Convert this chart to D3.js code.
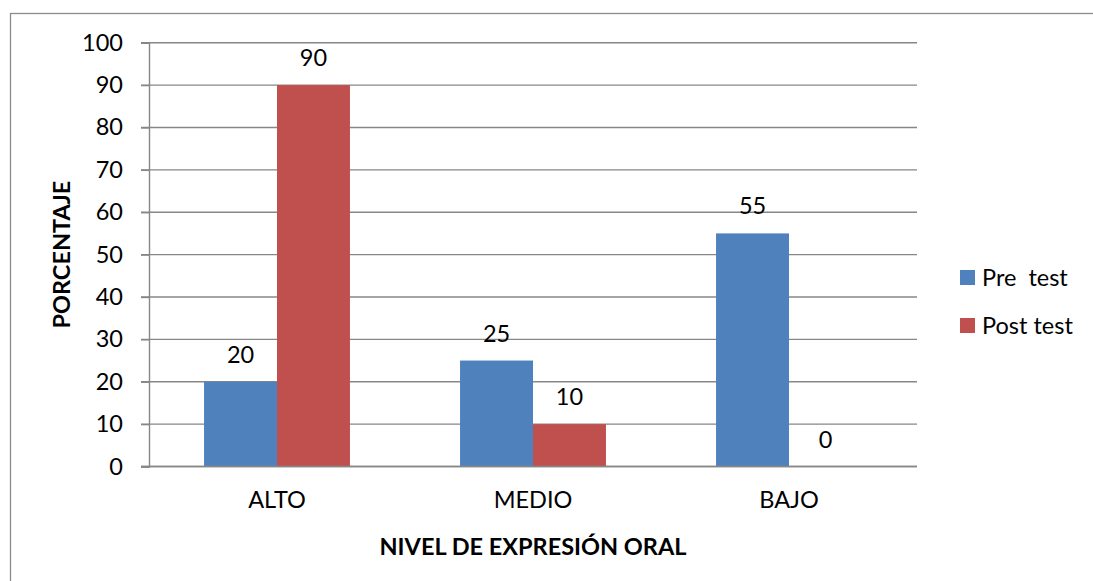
<!DOCTYPE html>
<html>
<head>
<meta charset="utf-8">
<script src="https://cdn.jsdelivr.net/npm/d3@7"></script>
<style>
  body { margin: 0; background: #fff; }
  text { font-family: Lato, "Liberation Sans", sans-serif; fill: #000; }
</style>
</head>
<body>
<div id="chart"></div>
<script>
// chart data
var categories = ["ALTO", "MEDIO", "BAJO"];
var seriesNames = ["Pre  test", "Post test"];
var preTest = [20, 25, 55];
var postTest = [90, 10, 0];
var yTicks = [0, 10, 20, 30, 40, 50, 60, 70, 80, 90, 100];
var colors = ["#4F81BD", "#C0504D"];

var width = 1093, height = 581;
var plotLeft = 149, plotRight = 917, plotTop = 42.7, plotBottom = 466.5;
var fontSize = "23.5px";

var svg = d3.select("#chart").append("svg")
	.attr("width", width)
	.attr("height", height);

// outer chart border (runs off the right and bottom edge)
svg.append("rect")
	.attr("x", 10.5).attr("y", 13.5)
	.attr("width", width).attr("height", height)
	.attr("fill", "none")
	.attr("stroke", "#8c8c8c")
	.attr("stroke-width", 1.3);

var y = d3.scaleLinear().domain([0, 100]).range([plotBottom, plotTop]);
var x = d3.scaleBand().domain(categories).range([plotLeft, plotRight])
	.paddingInner(0.43).paddingOuter(0.215);
var xs = d3.scaleBand().domain(seriesNames).range([0, x.bandwidth()]);

// gridlines
svg.append("g").selectAll("line")
	.data(yTicks)
	.enter().append("line")
	.attr("x1", plotLeft - 8)
	.attr("x2", plotRight)
	.attr("y1", function (d) { return y(d); })
	.attr("y2", function (d) { return y(d); })
	.attr("stroke", "#878787")
	.attr("stroke-width", 1.4);

// y axis
var yAxis = svg.append("g")
	.attr("transform", "translate(" + plotLeft + ",0)")
	.call(d3.axisLeft(y).tickValues(yTicks).tickSize(8).tickPadding(18));
yAxis.select(".domain").attr("stroke", "#878787").attr("stroke-width", 1.4);
yAxis.selectAll(".tick line").attr("stroke", "#878787").attr("stroke-width", 1.4);
yAxis.selectAll(".tick text")
	.style("font-family", "Lato, 'Liberation Sans', sans-serif")
	.style("font-size", fontSize)
	.attr("fill", "#000");

// bars
var rows = categories.map(function (c, i) {
	return { cat: c, values: [preTest[i], postTest[i]] };
});

var groups = svg.append("g").selectAll("g")
	.data(rows)
	.enter().append("g")
	.attr("transform", function (d) { return "translate(" + x(d.cat) + ",0)"; });

groups.selectAll("rect")
	.data(function (d) { return d.values.map(function (v, j) { return { s: seriesNames[j], v: v, j: j }; }); })
	.enter().append("rect")
	.attr("x", function (d) { return xs(d.s); })
	.attr("y", function (d) { return y(d.v); })
	.attr("width", xs.bandwidth())
	.attr("height", function (d) { return y(0) - y(d.v); })
	.attr("fill", function (d) { return colors[d.j]; });

groups.selectAll("text")
	.data(function (d) { return d.values.map(function (v, j) { return { s: seriesNames[j], v: v }; }); })
	.enter().append("text")
	.attr("x", function (d) { return xs(d.s) + xs.bandwidth() / 2; })
	.attr("y", function (d) { return y(d.v) - 19; })
	.attr("text-anchor", "middle")
	.style("font-size", fontSize)
	.text(function (d) { return d.v; });

// x axis line on top of bars
svg.append("line")
	.attr("x1", plotLeft - 8).attr("x2", plotRight)
	.attr("y1", y(0)).attr("y2", y(0))
	.attr("stroke", "#878787").attr("stroke-width", 1.4);

// category labels
svg.append("g").selectAll("text")
	.data(categories)
	.enter().append("text")
	.attr("x", function (d) { return x(d) + x.bandwidth() / 2; })
	.attr("y", 508)
	.attr("text-anchor", "middle")
	.style("font-size", fontSize)
	.text(function (d) { return d; });

// axis titles
svg.append("text")
	.attr("x", (plotLeft + plotRight) / 2)
	.attr("y", 555)
	.attr("text-anchor", "middle")
	.style("font-size", fontSize)
	.style("font-weight", "bold")
	.text("NIVEL DE EXPRESIÓN ORAL");

svg.append("text")
	.attr("transform", "translate(70," + (plotTop + plotBottom) / 2 + ") rotate(-90)")
	.attr("text-anchor", "middle")
	.style("font-size", fontSize)
	.style("font-weight", "bold")
	.text("PORCENTAJE");

// legend
var legend = svg.append("g").selectAll("g")
	.data(seriesNames)
	.enter().append("g")
	.attr("transform", function (d, i) { return "translate(960," + (270 + i * 48) + ")"; });
legend.append("rect")
	.attr("width", 15).attr("height", 15)
	.attr("fill", function (d, i) { return colors[i]; });
legend.append("text")
	.attr("x", 22).attr("y", 16)
	.style("font-size", fontSize)
	.style("white-space", "pre")
	.text(function (d) { return d; });
</script>
</body>
</html>
